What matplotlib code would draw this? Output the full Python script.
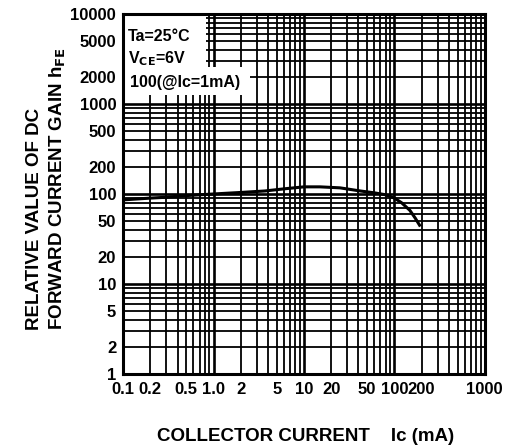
import numpy as np
import matplotlib
matplotlib.use("Agg")
import matplotlib.pyplot as plt
import matplotlib.patches as patches

plt.rcParams['font.family'] = ['Liberation Sans', 'DejaVu Sans']

# collector current (mA) and relative hFE
ic = [0.1, 0.2, 0.3, 0.5, 1.0, 2, 3.7, 6, 10, 15, 25, 42, 60, 80, 100, 120, 148, 170, 190]
hfe = [86, 90, 92, 96, 100, 104, 108, 114, 120, 120, 117, 108, 103, 98, 90, 80, 66, 54, 45]

x_ticks = [0.1, 0.2, 0.5, 1.0, 2, 5, 10, 20, 50, 100, 200, 1000]
x_labels = ["0.1", "0.2", "0.5", "1.0", "2", "5", "10", "20", "50", "100", "200", "1000"]
y_ticks = [1, 2, 5, 10, 20, 50, 100, 200, 500, 1000, 2000, 5000, 10000]
y_labels = [str(v) for v in y_ticks]

fig = plt.figure(figsize=(5.13, 4.48), dpi=100)
ax = fig.add_axes([0.24, 0.165, 0.705, 0.804])
ax.set_xscale('log')
ax.set_yscale('log')
ax.set_xlim(0.1, 1000)
ax.set_ylim(1, 10000)

# dense log grid, like the printed chart paper
for d in range(-1, 3):
    for m in range(1, 10):
        lw = 1.9 if m == 1 else 1.3
        ax.axvline(m * 10.0 ** d, color='black', lw=lw, zorder=1)
for d in range(0, 4):
    for m in range(1, 10):
        lw = 1.9 if m == 1 else 1.3
        ax.axhline(m * 10.0 ** d, color='black', lw=lw, zorder=1)

# white area behind the conditions text
ax.add_patch(patches.Rectangle((0.1, 1250), 2.4, 1350, facecolor='white', edgecolor='none', zorder=2))
ax.add_patch(patches.Rectangle((0.1, 2600), 0.72, 7400, facecolor='white', edgecolor='none', zorder=2))

ax.plot(ic, hfe, color='black', lw=2.2, zorder=3)

for s in ax.spines.values():
    s.set_linewidth(2.2)
    s.set_zorder(5)

ax.set_xticks(x_ticks)
ax.set_xticklabels(x_labels)
ax.set_yticks(y_ticks)
ax.set_yticklabels(y_labels)
ax.minorticks_off()
ax.tick_params(length=0, labelsize=12)
ax.tick_params(axis='x', pad=6)
ax.tick_params(axis='y', pad=5)
for t in ax.get_xticklabels() + ax.get_yticklabels():
    t.set_fontweight('bold')

ax.text(0.112, 5600, "Ta=25\u00b0C", fontsize=11.5, fontweight='bold', zorder=4, va='center')
ax.text(0.112, 3150, "V$_{\\bf CE}$=6V", fontsize=11.5, fontweight='bold', zorder=4, va='center')
ax.text(0.118, 1750, "100(@Ic=1mA)", fontsize=11.5, fontweight='bold', zorder=4, va='center')

fig.text(0.068, 0.263, "RELATIVE VALUE OF DC", rotation=90, fontsize=13.5, fontweight='bold',
         ha='center', va='bottom')
fig.text(0.113, 0.263, "FORWARD CURRENT GAIN h$_{\\bf FE}$", rotation=90, fontsize=13.5,
         fontweight='bold', ha='center', va='bottom')
fig.text(0.595, 0.025, "COLLECTOR CURRENT    Ic (mA)", fontsize=13.5, fontweight='bold',
         ha='center', va='center')

fig.savefig("out.png", dpi=100)
